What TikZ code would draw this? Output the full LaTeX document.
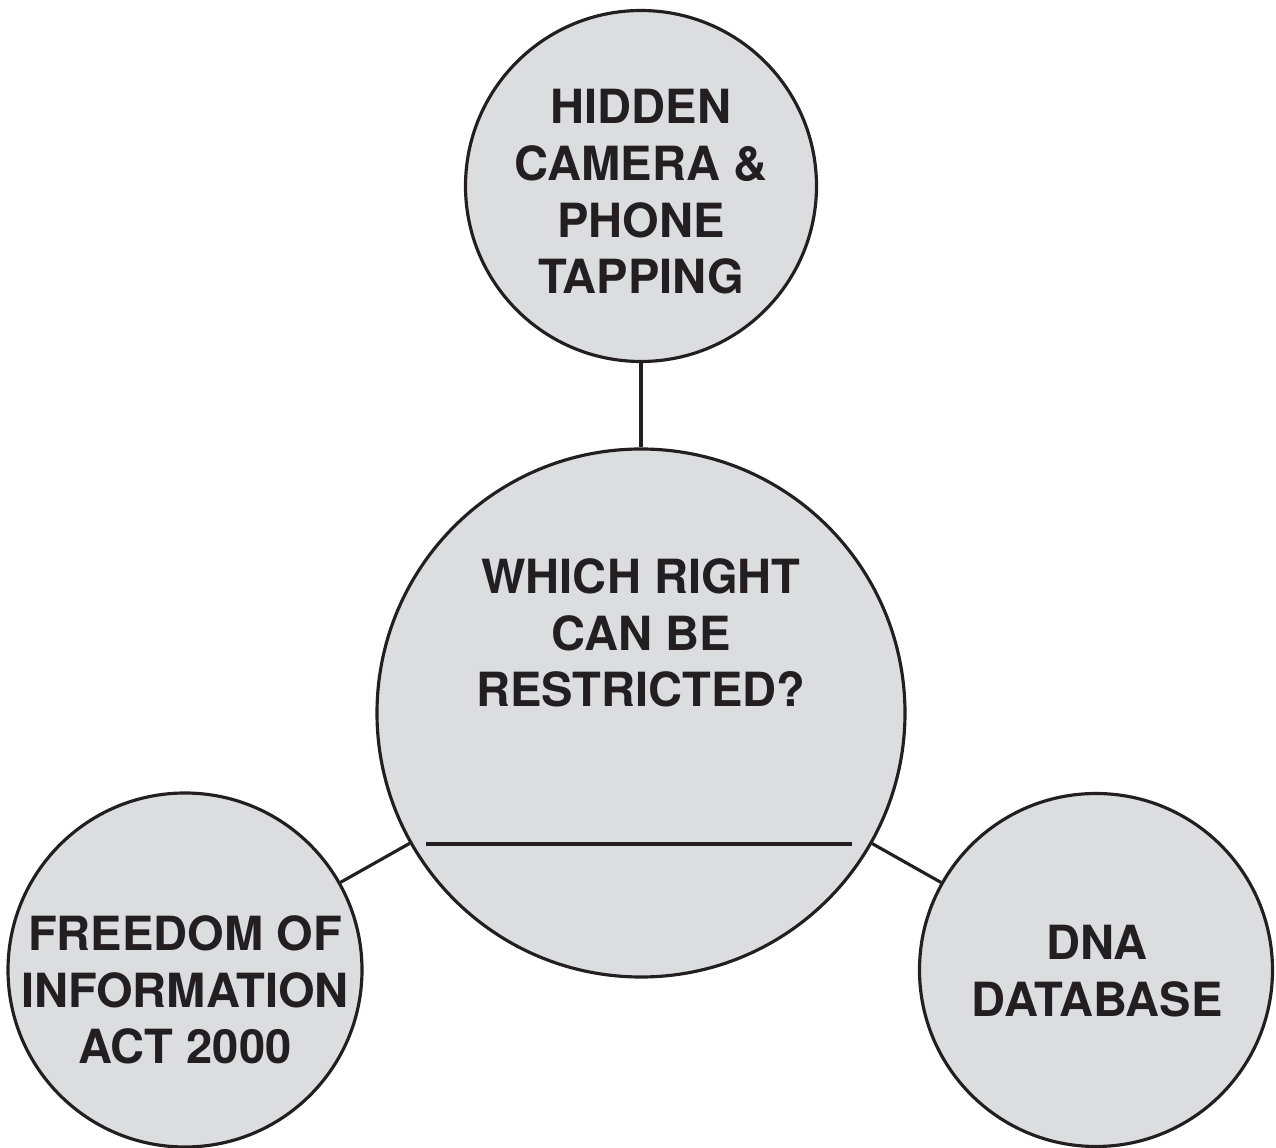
\documentclass[tikz,border=0pt]{standalone}
\usepackage{fontspec}
\setmainfont{TeX Gyre Heros}
\definecolor{ink}{HTML}{231F20}
\definecolor{disc}{HTML}{DCDDDF}
\tikzset{
  bubble/.style={circle, draw=ink, fill=disc, line width=1.8pt, inner sep=0pt},
  caption/.style={align=center, text=ink, font=\bfseries\fontsize{26.8}{32.3}\selectfont},
  joinline/.style={draw=ink, line width=1.8pt}
}
\begin{document}
\begin{tikzpicture}[x=0.02cm, y=-0.02cm]
  \useasboundingbox (0,0) rectangle (1276,1148);

  % circles
  \node[bubble, minimum size=351*0.02cm] (top) at (641,186) {};
  \node[bubble, minimum size=528*0.02cm] (hub) at (641,713) {};
  \node[bubble, minimum size=354*0.02cm] (left) at (185,970) {};
  \node[bubble, minimum size=353*0.02cm] (right) at (1096,970) {};

  % connectors between circles
  \path[joinline] (top) -- (hub);
  \path[joinline] (hub) -- (left);
  \path[joinline] (hub) -- (right);

  % answer line inside the central circle
  \coordinate (lineA) at (426,844);
  \coordinate (lineB) at (852,844);
  \path[joinline] (lineA) -- (lineB);

  % labels
  \node[caption] (toptext) at (641,192) {HIDDEN\\CAMERA \&\\PHONE\\TAPPING};
  \node[caption] (hubtext) at (641,633) {WHICH RIGHT\\CAN BE\\RESTRICTED?};
  \node[caption] (lefttext) at (185,990) {FREEDOM OF\\INFORMATION\\ACT 2000};
  \node[caption] (righttext) at (1097,971) {DNA\\DATABASE};
\end{tikzpicture}
\end{document}
